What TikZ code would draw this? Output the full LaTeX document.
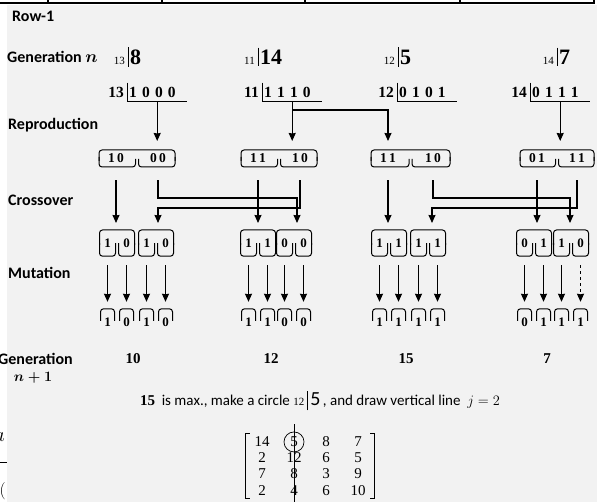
\documentclass[tikz,border=0pt]{standalone}
\usepackage{fontspec}
\setmainfont{Carlito}
\newfontfamily\numfont{Liberation Serif}
\newfontfamily\bitfont[WordSpace=1.8]{Liberation Serif}
\usetikzlibrary{arrows.meta,matrix,positioning}

\begin{document}
\begin{tikzpicture}[%
    x=1pt,y=-1pt,%
    stagelabel/.style={anchor=west,inner sep=0pt,font=\fontsize{16}{18}\selectfont\bfseries\boldmath},%
    genval/.style={anchor=west,inner sep=2pt,font=\fontsize{22}{24}\selectfont\numfont\bfseries},%
    gensub/.style={anchor=base east,inner sep=1pt,font=\fontsize{11}{12}\selectfont\numfont},%
    chrom/.style={anchor=west,text width=56pt,inner xsep=2pt,inner ysep=4pt,align=left,%
        font=\fontsize{15.5}{17}\selectfont\bitfont\bfseries},%
    chromsub/.style={anchor=base east,inner sep=1pt,font=\fontsize{15.5}{17}\selectfont\numfont\bfseries},%
    half/.style={inner sep=0pt,minimum height=17pt,font=\fontsize{13.5}{15}\selectfont\numfont\bfseries},%
    bit/.style={inner sep=0pt,minimum height=26pt,minimum width=12pt,font=\fontsize{13}{14}\selectfont\numfont\bfseries},%
    brace/.style={draw,line width=1pt,rounded corners=3pt},%
    arr/.style={draw,line width=1.2pt,-{Stealth[length=8pt,width=7pt,inset=0.5pt]}},%
    crossarr/.style={arr,shorten <=13.5pt},%
    mutarr/.style={arr,shorten <=9pt,shorten >=7pt},%
    val/.style={font=\fontsize{15}{17}\selectfont\numfont\bfseries},%
    cell/.style={minimum width=32pt,minimum height=16pt,inner sep=0pt,font=\fontsize{15}{16}\selectfont\numfont},%
]%
    \useasboundingbox (0,0) rectangle (597,502);
    \fill[white] (0,0) rectangle (597,502);
    \fill[black!5] (7,5) rectangle (597,502);

    % edge of the table above and cut-off marks on the left
    \draw[line width=1.5pt] (0,3) -- (595,3);
    \foreach \x in {48,162,305,460,594}{%
        \draw[line width=1.5pt] (\x,0) -- (\x,3);
    }
    \node[anchor=east,inner sep=0pt,font=\fontsize{20}{22}\selectfont] (cuta) at (5,437) {$a$};
    \draw[line width=1pt] (0,462) -- (7,462);
    \node[anchor=east,inner sep=0pt,font=\fontsize{16}{18}\selectfont] (cutb) at (6,491) {$($};

    % stage labels
    \node[stagelabel] (lrow) at (12,16) {Row-1};
    \node[stagelabel] (lgen) at (7,57) {Generation $n$};
    \node[stagelabel] (lrep) at (8,125) {Reproduction};
    \node[stagelabel] (lcro) at (8,200) {Crossover};
    \node[stagelabel] (lmut) at (8,273) {Mutation};
    \node[stagelabel] (lnext) at (-2,359) {Generation};
    \node[font=\fontsize{15}{17}\selectfont\boldmath] (lnextn) at (33,378) {$n+1$};

    % generation n
    \foreach \i/\x/\s/\v in {1/128/13/8, 2/258/11/14, 3/398/12/5, 4/557/14/7}{%
        \node[genval] (v\i) at (\x,57) {\v};
        \node[gensub] (vs\i) at ([xshift=-2pt]v\i.base west) {\s};
        \draw[line width=1pt] (v\i.north west) -- (v\i.south west);
    }

    % chromosomes
    \foreach \i/\x/\s/\b in {1/127/13/{1 0 0 0}, 2/262/11/{1 1 1 0}, 3/397/12/{0 1 0 1}, 4/530/14/{0 1 1 1}}{%
        \node[chrom] (c\i) at (\x,92) {\b};
        \node[chromsub] (cs\i) at ([xshift=-2pt]c\i.base west) {\s};
        \draw[line width=1pt] (c\i.north west) |- (c\i.south east);
    }

    % pairs after reproduction
    \foreach \i/\a/\b/\ta/\tb in {1/116/158/{1\,0}/{0\,0}, 2/258/300/{1\,1}/{1\,0},%
                                  3/388/433/{1\,1}/{1\,0}, 4/537/577/{0\,1}/{1\,1}}{%
        \node[half] (p\i a) at (\a,158) {\ta};
        \node[half] (p\i b) at (\b,158) {\tb};
        \pgfmathsetmacro\m{(\a+\b)/2}
        \coordinate (p\i) at (\m,141);
        \draw[brace] ({\a-17},161) -- ({\a-17},150) -- ({\b+17},150) -- ({\b+17},161);
        \draw[brace] ({\a-17},157) -- ({\a-17},167) -- ({\m-1.5},167) -- ({\m-1.5},159);
        \draw[brace] ({\m+1.5},159) -- ({\m+1.5},167) -- ({\b+17},167) -- ({\b+17},157);
    }

    % reproduction
    \coordinate (j0) at (0,110);
    \draw[arr] (c1.south) -- (c1.south |- p1);
    \draw[arr] (c2.south) -- (c2.south |- p2);
    \draw[arr] (c2.south |- j0) -| (p3a |- p3);
    \draw[arr] (c4.south) -- (c4.south |- p4);

    % crossover
    \coordinate (jA) at (0,198);
    \coordinate (jB) at (0,208);
    \coordinate (q1a) at (116,223);
    \coordinate (q1b) at (158,223);
    \coordinate (q2a) at (258,223);
    \coordinate (q2b) at (297,223);
    \coordinate (q3a) at (388,223);
    \coordinate (q3b) at (432,223);
    \coordinate (q4a) at (537,223);
    \coordinate (q4b) at (570,223);
    \draw[crossarr] (p1a.south) -- (q1a);
    \draw[crossarr] (p2a.south) -- (q2a);
    \draw[crossarr] (p3a.south) -- (q3a);
    \draw[crossarr] (p4a.south) -- (q4a);
    \draw[crossarr] (p1b.south) -- (p1b.south |- jA) -| (q2b);
    \draw[crossarr] (p2b.south) -- (p2b.south |- jB) -| (q1b);
    \draw[crossarr] (p3b.south) -- (p3b.south |- jA) -| (q4b);
    \draw[crossarr] (p4b.south) -- (p4b.south |- jB) -| (q3b);

    % mutation
    \foreach \g/\u/\v/\da/\db/\dc/\dd/\rd in {1/117/156/1/0/1/0/0, 2/258/294/1/1/0/0/0,%
                                              3/389/428/1/1/1/1/1, 4/534/571/0/1/1/0/1}{%
        \foreach \c in {\u,\v}{%
            \draw[brace] ({\c-17.5},245) -- ({\c-17.5},230) -- ({\c+17.5},230) -- ({\c+17.5},245);
        }
        \node[bit] (m\g1) at ({\u-9.5},243) {\da};
        \node[bit] (m\g2) at ({\u+9.5},243) {\db};
        \node[bit] (m\g3) at ({\v-9.5},243) {\dc};
        \node[bit] (m\g4) at ({\v+9.5},243) {\dd};
        \node[bit] (r\g1) at ({\u-9.5},322) {\da};
        \node[bit] (r\g2) at ({\u+9.5},322) {\db};
        \node[bit] (r\g3) at ({\v-9.5},322) {\dc};
        \node[bit] (r\g4) at ({\v+9.5},322) {\rd};
        \foreach \k in {1,...,4}{%
            \draw[brace] ([xshift=-8pt,yshift=13pt]m\g\k.south) -- ([xshift=-8pt]m\g\k.south)
                -- ([xshift=8pt]m\g\k.south) -- ([xshift=8pt,yshift=13pt]m\g\k.south);
            \draw[brace] ([xshift=-7pt,yshift=-12pt]r\g\k.north) -- ([xshift=-7pt]r\g\k.north)
                -- ([xshift=7pt]r\g\k.north) -- ([xshift=7pt,yshift=-12pt]r\g\k.north);
            \ifnum\g\k=44
                \draw[mutarr,dashed] (m\g\k) -- (r\g\k);
            \else
                \draw[mutarr] (m\g\k) -- (r\g\k);
            \fi
        }
    }

    % generation n+1
    \node[val] (n1) at (133,359) {10};
    \node[val] (n2) at (271,359) {12};
    \node[val] (n3) at (406,359) {15};
    \node[val] (n4) at (547,359) {7};

    \node[font=\fontsize{15}{17}\selectfont] (msg) at (320,401)
        {{\numfont\bfseries 15}\ \ is max., make a circle\ {\numfont\fontsize{11}{12}\selectfont 12}\,\vrule width 1pt height 14pt depth 5pt\,{\fontsize{20}{22}\selectfont 5}\,, and draw vertical line\ \ $j=2$};

    % matrix with the chosen column
    \matrix (mx) [matrix of nodes,nodes={cell},inner sep=0pt] at (310,466) {%
        14 & 5  & 8 & 7  \\
        2  & 12 & 6 & 5  \\
        7  & 8  & 3 & 9  \\
        2  & 4  & 6 & 10 \\
    };
    \draw[line width=0.9pt] ([xshift=4pt]mx.north west) -- (mx.north west) -- (mx.south west) -- ([xshift=4pt]mx.south west);
    \draw[line width=0.9pt] ([xshift=-4pt]mx.north east) -- (mx.north east) -- (mx.south east) -- ([xshift=-4pt]mx.south east);
    \draw[line width=0.7pt] (mx-1-2.center) circle[radius=10pt];
    \coordinate (vtop) at (0,424);
    \coordinate (vbot) at (0,502);
    \draw[line width=0.9pt] (mx-1-2 |- vtop) -- (mx-1-2 |- vbot);
\end{tikzpicture}
\end{document}
